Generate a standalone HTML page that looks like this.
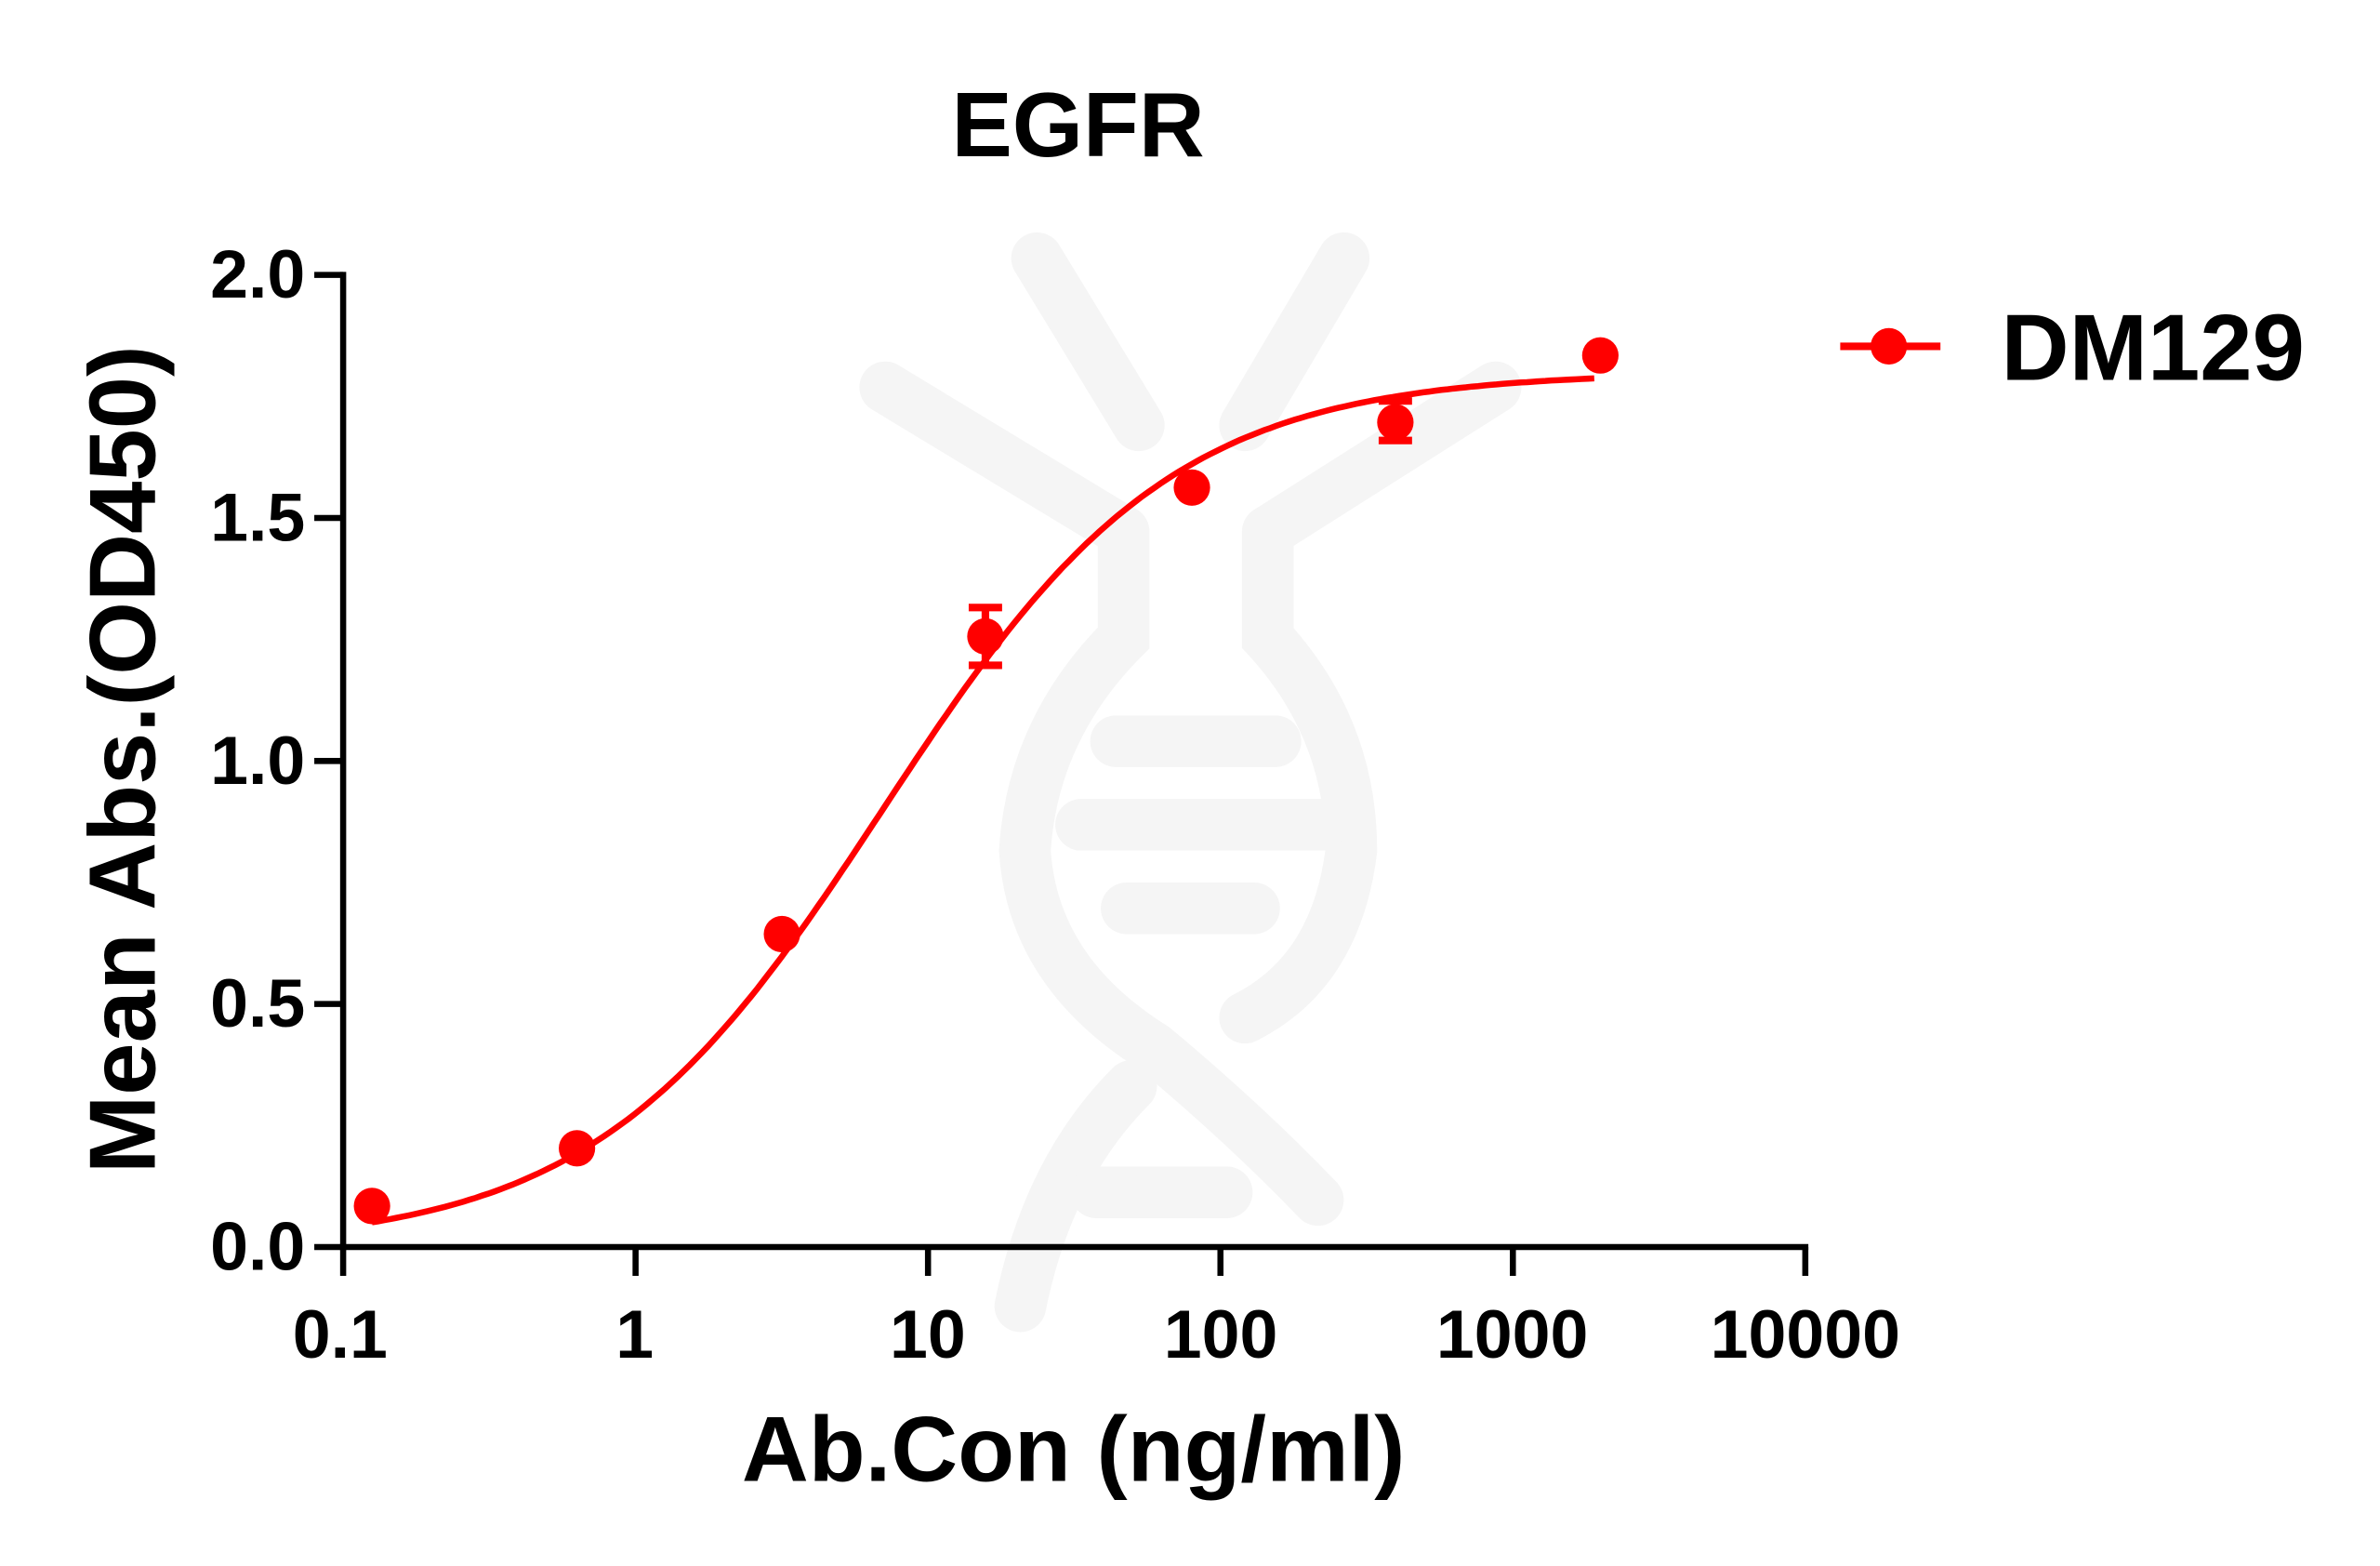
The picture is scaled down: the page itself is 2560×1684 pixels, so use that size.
<!DOCTYPE html>
<html><head><style>html,body{margin:0;padding:0;background:#fff}svg{display:block}text{font-family:"Liberation Sans",Arial,sans-serif;font-weight:bold;fill:#000}</style></head>
<body>
<svg width="2560" height="1684" viewBox="0 0 1567.5 1031" preserveAspectRatio="none" xmlns="http://www.w3.org/2000/svg">
<g stroke="#f5f5f5" stroke-width="34" stroke-linecap="round" fill="none">
<path d="M683 170 L750 280"/><path d="M885 170 L820 280"/>
<path d="M583 255 L740 350"/><path d="M985 255 L835 350"/>
<path d="M835 350 L835 420 Q890 480 890 560 Q880 640 820 670"/>
<path d="M740 350 L740 420 Q680 480 675 560 Q680 640 760 690 Q820 740 868 790"/>
<path d="M745 715 Q690 770 672 860"/>
<path d="M735 488 L840 488"/><path d="M712 543 L870 543"/><path d="M742 598 L826 598"/><path d="M722 785 L808 785"/>
</g>
<text x="710" y="103" font-size="60" text-anchor="middle">EGFR</text>
<g stroke="#000" stroke-width="4" fill="none">
<path d="M226 179 L226 823"/><path d="M224 821 L1191 821"/>
<path d="M207 181 H226 M207 341 H226 M207 501 H226 M207 661 H226 M207 821 H226"/>
<path d="M226 821 V840 M418.6 821 V840 M611.2 821 V840 M803.8 821 V840 M996.4 821 V840 M1189 821 V840"/>
</g>
<g font-size="45" text-anchor="end">
<text x="201" y="196">2.0</text><text x="201" y="356">1.5</text><text x="201" y="516">1.0</text><text x="201" y="676">0.5</text><text x="201" y="836">0.0</text>
</g>
<g font-size="45" text-anchor="middle">
<text x="224" y="894">0.1</text><text x="418" y="894">1</text><text x="611" y="894">10</text><text x="804" y="894">100</text><text x="996" y="894">1000</text><text x="1189" y="894">10000</text>
</g>
<text x="707" y="975" font-size="61" text-anchor="middle">Ab.Con (ng/ml)</text>
<text transform="translate(102,500) rotate(-90)" font-size="62" text-anchor="middle">Mean Abs.(OD450)</text>
<path id="curve" fill="none" stroke="#f00" stroke-width="4"/>
<g stroke="#f00" stroke-width="5" fill="none">
<path d="M649 400 V438 M638 400 H660 M638 438 H660"/>
<path d="M919 262 V292 M908 264 H930 M908 290 H930"/>
</g>
<g fill="#f00">
<circle cx="245" cy="794" r="12"/><circle cx="380" cy="756" r="12"/><circle cx="515" cy="615" r="12"/><circle cx="649" cy="419" r="12"/><circle cx="785" cy="321" r="12"/><circle cx="919" cy="278" r="12"/><circle cx="1054" cy="234" r="12"/>
</g>
<path d="M1212 228 H1278" stroke="#f00" stroke-width="5"/>
<circle cx="1244" cy="228" r="12" fill="#f00"/>
<text x="1318" y="250" font-size="62">DM129</text>
<script>
var d="";for(var i=0;i<=200;i++){var px=245+(1050-245)*i/200;var c=0.1*Math.pow(10,(px-226)/192.6);var y=0.0+1.80/(1+Math.pow(7/c,0.88));var py=821-320*y;d+=(i?"L":"M")+px.toFixed(1)+" "+py.toFixed(1);}
document.getElementById("curve").setAttribute("d",d);
</script>
</svg>
</body></html>
